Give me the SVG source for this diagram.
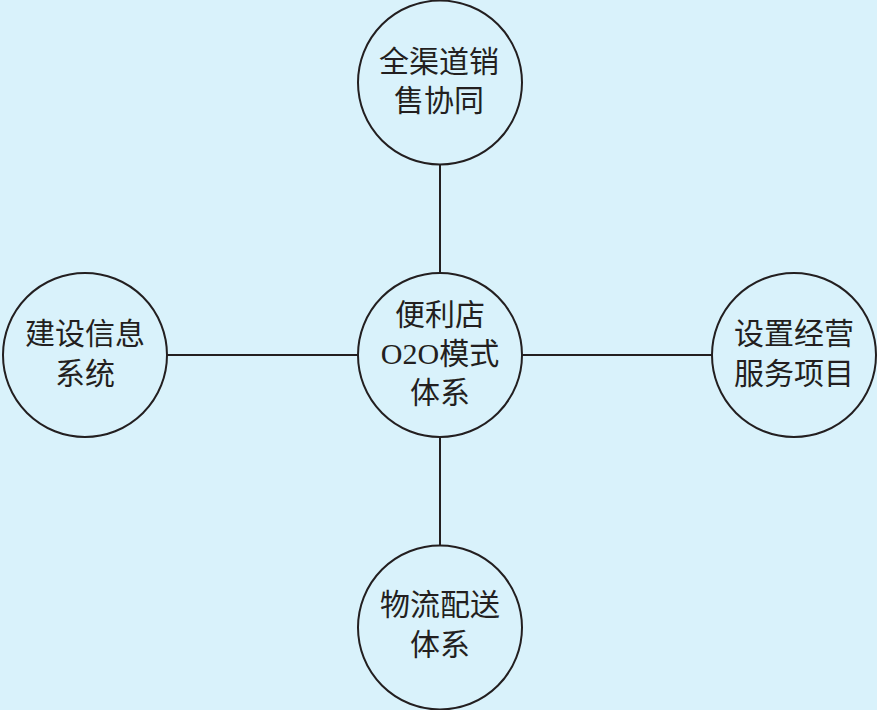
<svg xmlns="http://www.w3.org/2000/svg" width="877" height="710" viewBox="0 0 877 710">
<style>
.n{fill:#d9f2fb;stroke:#231f20;stroke-width:2}
.c{stroke:#231f20;stroke-width:2;fill:none}
.t{font-family:"Liberation Serif","Noto Sans CJK SC",serif;font-size:30px;fill:#231f20;text-anchor:middle;dominant-baseline:central}
</style>
<rect width="877" height="710" fill="#d9f2fb"/>
<g id="connectors">
<line class="c" x1="440" y1="164" x2="440" y2="273"/>
<line class="c" x1="167" y1="355" x2="358" y2="355"/>
<line class="c" x1="522" y1="355" x2="712" y2="355"/>
<line class="c" x1="440" y1="437" x2="440" y2="546"/>
</g>
<g id="node-top">
<circle class="n" cx="440" cy="82.5" r="82"/>
<text class="t" x="439" y="61">全渠道销</text>
<text class="t" x="439" y="100">售协同</text>
</g>
<g id="node-center">
<circle class="n" cx="440" cy="355" r="82"/>
<text class="t" x="440" y="314">便利店</text>
<text class="t" x="440" y="353">O2O模式</text>
<text class="t" x="440" y="392">体系</text>
</g>
<g id="node-left">
<circle class="n" cx="85" cy="355" r="82"/>
<text class="t" x="85" y="333">建设信息</text>
<text class="t" x="85" y="373">系统</text>
</g>
<g id="node-right">
<circle class="n" cx="794" cy="355" r="82"/>
<text class="t" x="794" y="333">设置经营</text>
<text class="t" x="794" y="373">服务项目</text>
</g>
<g id="node-bottom">
<circle class="n" cx="440" cy="627.5" r="82"/>
<text class="t" x="440" y="604">物流配送</text>
<text class="t" x="440" y="644">体系</text>
</g>
</svg>
